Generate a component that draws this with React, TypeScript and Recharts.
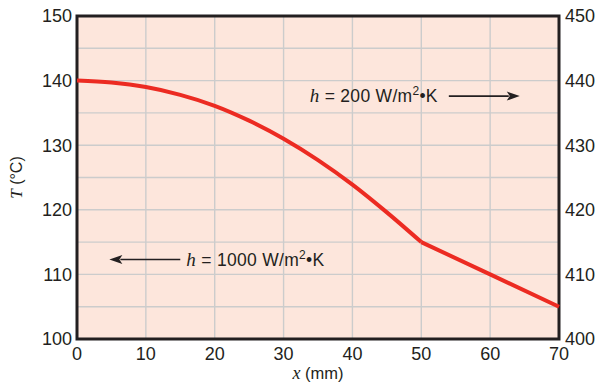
import {
  CartesianGrid,
  Label,
  Line,
  LineChart,
  ReferenceArea,
  ReferenceLine,
  XAxis,
  YAxis,
} from "recharts";

// distance along the fin, mm
const xMm = [0, 5, 10, 15, 20, 25, 30, 35, 40, 45, 50, 60, 70];
// temperature, °C (curved part up to 50 mm, straight part after it)
const tempC = [140, 139.7, 139.0, 137.8, 136.1, 133.8, 131.0, 127.7, 123.9, 119.6, 115, 110, 105];
const kinkMm = 50;

const xTicks = [0, 10, 20, 30, 40, 50, 60, 70];
const leftTicks = [100, 110, 120, 130, 140, 150];
const rightTicks = [400, 410, 420, 430, 440, 450];
const gridX = [10, 20, 30, 40, 50, 60];
const gridY = [105, 110, 115, 120, 125, 130, 135, 140, 145];

const chartData = xMm.map((x, i) => ({
  x,
  curve: x <= kinkMm ? tempC[i] : null,
  straight: x >= kinkMm ? tempC[i] : null,
}));

const FONT = "'Liberation Sans', Arial, Helvetica, sans-serif";
const SERIF = "'Liberation Serif', 'Times New Roman', serif";
const INK = "#231f20";
const RED = "#ec2b22";

function arrowShape(label: string, gap: number) {
  return (p: any) => {
    const { x1, y1, x2, y2 } = p;
    const dir = x2 > x1 ? 1 : -1;
    const head = 13;
    const tx = x1 - dir * gap;
    return (
      <g>
        <line x1={x1} y1={y1} x2={x2 - dir * head + dir * 2} y2={y2} stroke={INK} strokeWidth={1.6} />
        <polygon
          points={`${x2},${y2} ${x2 - dir * head},${y2 - 4.5} ${x2 - dir * (head - 3)},${y2} ${x2 - dir * head},${y2 + 4.5}`}
          fill={INK}
        />
        <text
          x={tx}
          y={y1 + 6}
          textAnchor={dir > 0 ? "end" : "start"}
          fontFamily={FONT}
          fontSize={17.5}
          letterSpacing={0.3}
          fill={INK}
        >
          <tspan fontFamily={SERIF} fontStyle="italic" fontSize={19}>h</tspan>
          <tspan>{` = ${label} W/m`}</tspan>
          <tspan dy={-7} fontSize={12}>2</tspan>
          <tspan dy={7}>•K</tspan>
        </text>
      </g>
    );
  };
}

function XLabel(props: any) {
  const { viewBox } = props;
  const cx = viewBox.x + viewBox.width / 2;
  return (
    <text x={cx} y={viewBox.y + 40} textAnchor="middle" fontFamily={FONT} fontSize={16.5} fill={INK}>
      <tspan fontFamily={SERIF} fontStyle="italic" fontSize={18}>x</tspan>
      <tspan> (mm)</tspan>
    </text>
  );
}

function YLabel(props: any) {
  const { viewBox } = props;
  const cy = viewBox.y + viewBox.height / 2;
  const x = 22;
  return (
    <text
      x={x}
      y={cy}
      transform={`rotate(-90 ${x} ${cy})`}
      textAnchor="middle"
      fontFamily={FONT}
      fontSize={16}
      fill={INK}
    >
      <tspan fontFamily={SERIF} fontStyle="italic" fontSize={17}>T</tspan>
      <tspan> (°C)</tspan>
    </text>
  );
}

const tickStyle = { fontFamily: FONT, fontSize: 18, fill: INK };

export default function App() {
  return (
    <div style={{ position: "absolute", left: 0, top: 0, width: 598, height: 382, background: "#fff" }}>
      <LineChart width={598} height={382} data={chartData} margin={{ top: 16, right: 0, bottom: 0, left: 0 }}>
        <CartesianGrid
          fill="#fde6dc"
          stroke="#cccccc"
          strokeWidth={1.4}
          horizontalValues={gridY}
          verticalValues={gridX}
        />
        <XAxis
          dataKey="x"
          type="number"
          domain={[0, 70]}
          ticks={xTicks}
          height={43}
          axisLine={false}
          tickLine={false}
          tickSize={0}
          tickMargin={8}
          tick={tickStyle}
          interval={0}
        >
          <Label content={<XLabel />} />
        </XAxis>
        <YAxis
          type="number"
          domain={[100, 150]}
          ticks={leftTicks}
          width={77}
          axisLine={false}
          tickLine={false}
          tickSize={0}
          tickMargin={5}
          tick={tickStyle}
          interval={0}
        >
          <Label content={<YLabel />} />
        </YAxis>
        <YAxis
          yAxisId="right"
          orientation="right"
          type="number"
          domain={[400, 450]}
          ticks={rightTicks}
          width={39}
          axisLine={false}
          tickLine={false}
          tickSize={0}
          tickMargin={6}
          tick={{ ...tickStyle, textAnchor: "start" }}
          interval={0}
          allowDataOverflow
        />
        <ReferenceLine
          segment={[
            { x: 54, y: 137.6 },
            { x: 64.3, y: 137.6 },
          ]}
          shape={arrowShape("200", 11)}
        />
        <ReferenceLine
          segment={[
            { x: 15, y: 112.3 },
            { x: 4.7, y: 112.3 },
          ]}
          shape={arrowShape("1000", 6)}
        />
        <Line
          dataKey="curve"
          type="monotone"
          stroke={RED}
          strokeWidth={4}
          dot={false}
          connectNulls={false}
          isAnimationActive={false}
        />
        <Line
          dataKey="straight"
          type="linear"
          stroke={RED}
          strokeWidth={4}
          dot={false}
          connectNulls={false}
          isAnimationActive={false}
        />
        <ReferenceArea x1={0} x2={70} y1={100} y2={150} fill="none" stroke={INK} strokeWidth={3} />
      </LineChart>
    </div>
  );
}
